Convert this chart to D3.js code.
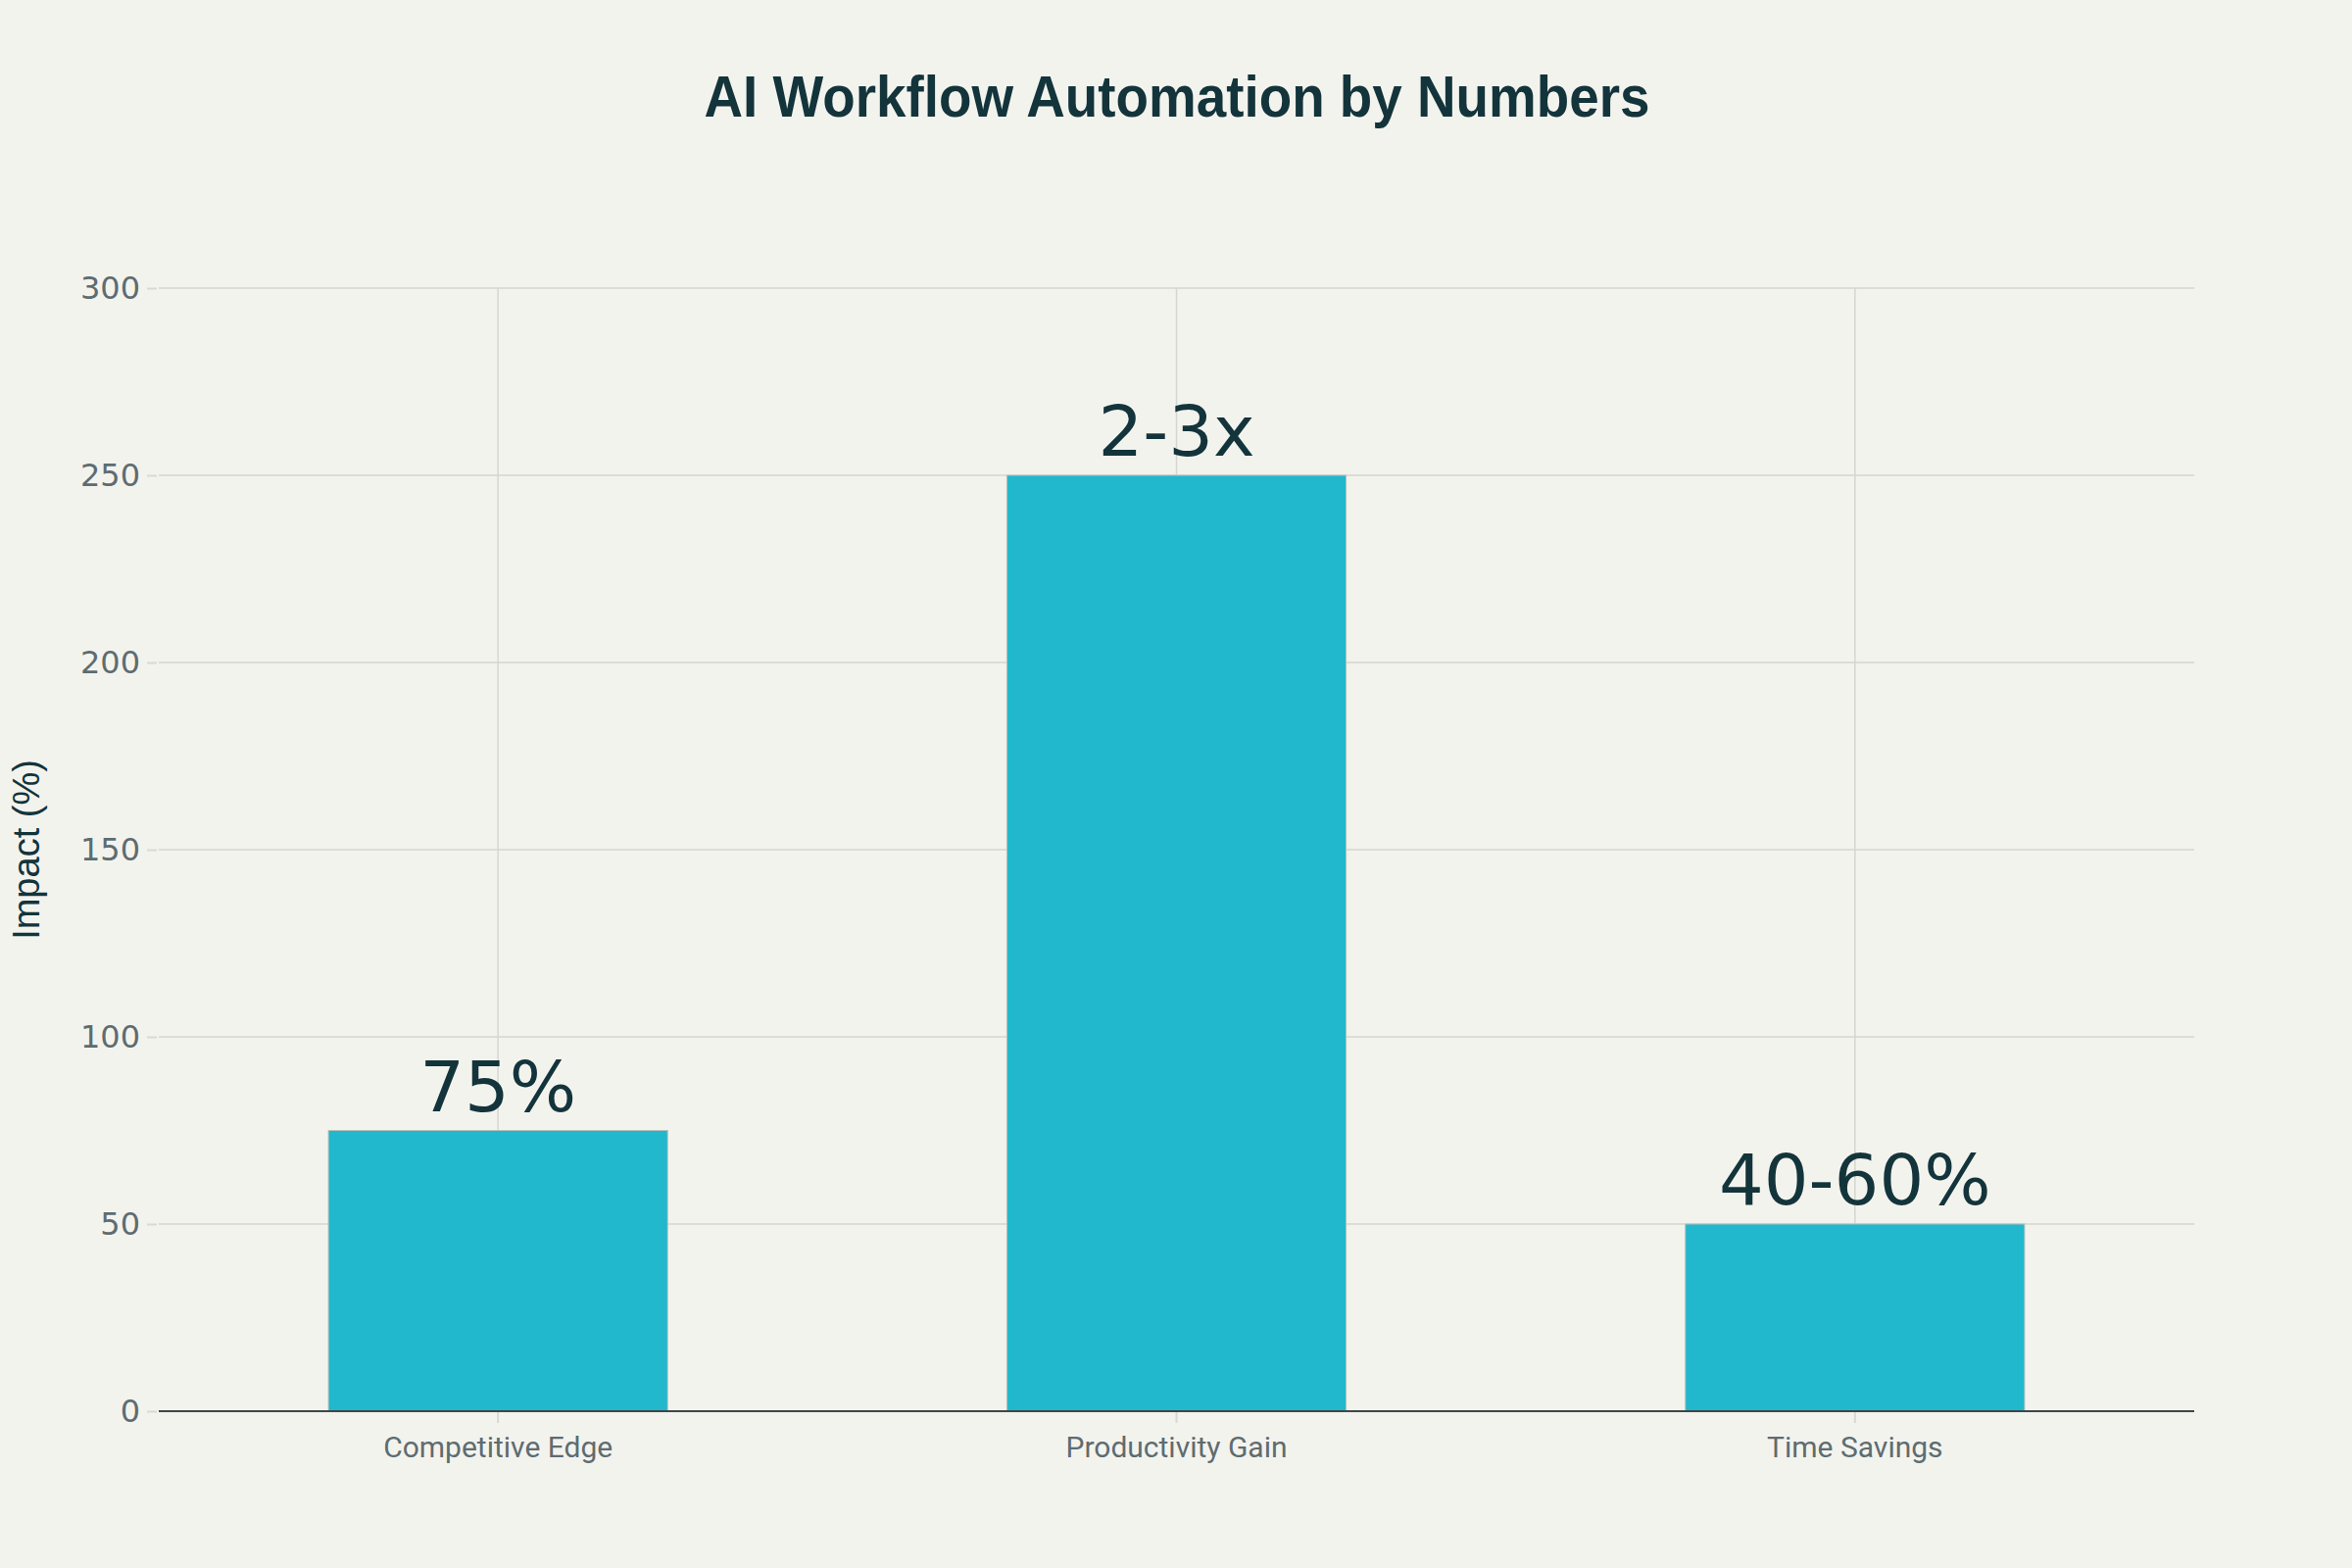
<!DOCTYPE html>
<html lang="en">
<head>
  <meta charset="UTF-8">
  <title>AI Workflow Automation by Numbers</title>
  <script src="https://d3js.org/d3.v7.min.js"></script>
  <style>
    body {
      margin: 0;
      background: #f3f3ee;
    }
    .grid line {
      stroke: #d6d6d1;
      stroke-width: 1.5px;
    }
  </style>
</head>
<body>
  <svg id="chart" width="2400" height="1600"></svg>

  <script>
    // data
    const categories = ["Competitive Edge", "Productivity Gain", "Time Savings"];
    const values = [75, 250, 50];
    const valueLabels = ["75%", "2-3x", "40-60%"];
    const yTicks = [0, 50, 100, 150, 200, 250, 300];

    const width = 2400;
    const height = 1600;
    const margin = { top: 294, right: 161, bottom: 160, left: 162 };

    const svg = d3.select("#chart");

    svg.append("rect")
      .attr("width", width)
      .attr("height", height)
      .attr("fill", "#f3f3ee");

    const x = d3.scaleBand()
      .domain(categories)
      .range([margin.left, width - margin.right])
      .paddingInner(0.5)
      .paddingOuter(0.25);

    const y = d3.scaleLinear()
      .domain([0, 300])
      .range([height - margin.bottom, margin.top]);

    // horizontal grid
    const grid = svg.append("g").attr("class", "grid");
    grid.selectAll(".h")
      .data(yTicks.filter(d => d > 0))
      .enter()
      .append("line")
      .attr("x1", margin.left)
      .attr("x2", width - margin.right)
      .attr("y1", d => y(d))
      .attr("y2", d => y(d));

    // vertical grid at category centres
    grid.selectAll(".v")
      .data(categories)
      .enter()
      .append("line")
      .attr("x1", d => x(d) + x.bandwidth() / 2)
      .attr("x2", d => x(d) + x.bandwidth() / 2)
      .attr("y1", y(300))
      .attr("y2", y(0));

    // y axis (ticks + labels only)
    const yAxis = svg.append("g")
      .attr("transform", `translate(${margin.left - 2}, 0)`)
      .call(d3.axisLeft(y).tickValues(yTicks).tickSize(10).tickPadding(7));
    yAxis.select(".domain").remove();
    yAxis.selectAll(".tick line").attr("stroke", "#d9d9d4").attr("stroke-width", 2);
    yAxis.selectAll(".tick text")
      .attr("font-size", 32)
      .style("font-family", "'DejaVu Sans', sans-serif")
      .attr("fill", "#5e6c70");

    // x axis
    const xAxis = svg.append("g")
      .attr("transform", `translate(0, ${y(0)})`)
      .call(d3.axisBottom(x).tickSize(12).tickPadding(14));
    xAxis.select(".domain").remove();
    xAxis.selectAll(".tick line").attr("stroke", "#d9d9d4").attr("stroke-width", 2);
    xAxis.selectAll(".tick text")
      .attr("font-size", 30)
      .style("font-family", "Roboto, 'Liberation Sans', sans-serif")
      .attr("fill", "#5e6c70");

    // bars
    svg.selectAll(".bar")
      .data(values)
      .enter()
      .append("rect")
      .attr("class", "bar")
      .attr("x", (d, i) => x(categories[i]))
      .attr("y", d => y(d))
      .attr("width", x.bandwidth())
      .attr("height", d => y(0) - y(d))
      .attr("fill", "#21b7cc")
      .attr("stroke", "#b7c2bd")
      .attr("stroke-width", 1);

    // zero line
    svg.append("line")
      .attr("x1", margin.left)
      .attr("x2", width - margin.right)
      .attr("y1", y(0))
      .attr("y2", y(0))
      .attr("stroke", "#3c4748")
      .attr("stroke-width", 2);

    // value labels
    svg.selectAll(".val")
      .data(values)
      .enter()
      .append("text")
      .attr("x", (d, i) => x(categories[i]) + x.bandwidth() / 2)
      .attr("y", d => y(d) - 20)
      .attr("text-anchor", "middle")
      .attr("font-size", 72)
      .style("font-family", "'DejaVu Sans', sans-serif")
      .attr("fill", "#13343b")
      .text((d, i) => valueLabels[i]);

    // y axis title
    svg.append("text")
      .attr("transform", `translate(40, ${(y(0) + y(300)) / 2}) rotate(-90)`)
      .attr("text-anchor", "middle")
      .attr("font-size", 38)
      .style("font-family", "'Liberation Sans', Arial, sans-serif")
      .attr("fill", "#13343b")
      .text("Impact (%)");

    // title
    svg.append("text")
      .attr("x", 1201)
      .attr("y", 119)
      .attr("text-anchor", "middle")
      .attr("font-size", 60)
      .attr("font-weight", "bold")
      .attr("textLength", 965)
      .attr("lengthAdjust", "spacingAndGlyphs")
      .style("font-family", "'Liberation Sans', Arial, sans-serif")
      .attr("fill", "#13343b")
      .text("AI Workflow Automation by Numbers");
  </script>
</body>
</html>
